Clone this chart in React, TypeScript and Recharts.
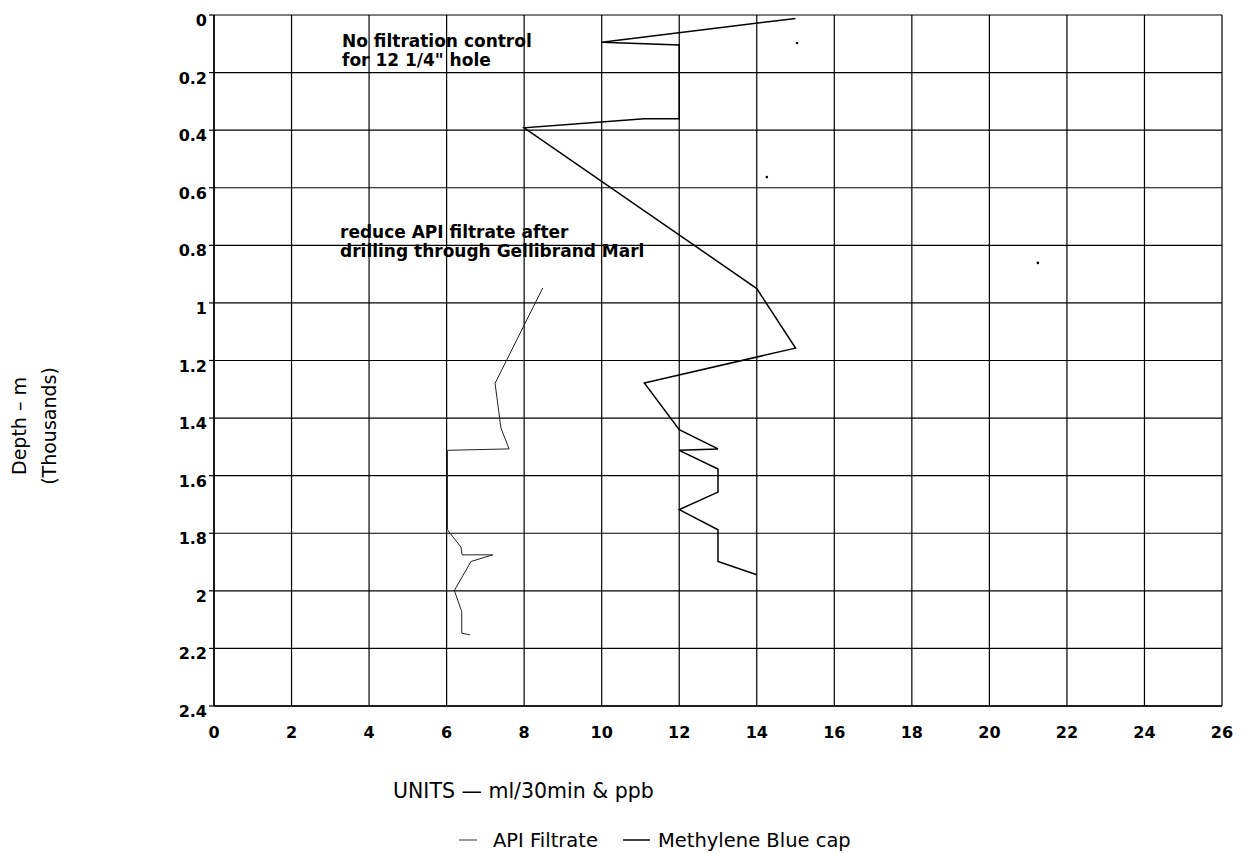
import React from 'react';
import { ScatterChart, Scatter, XAxis, YAxis, CartesianGrid, Legend, Label } from 'recharts';

const FONT = "'DejaVu Sans', sans-serif";

// Axis ticks
const xTicks = [0, 2, 4, 6, 8, 10, 12, 14, 16, 18, 20, 22, 24, 26];
const yTicks = [0, 0.2, 0.4, 0.6, 0.8, 1, 1.2, 1.4, 1.6, 1.8, 2, 2.2, 2.4];

// Series names
const seriesNames = ['API Filtrate', 'Methylene Blue cap'];

// Methylene Blue cap (ppb) vs depth (thousands of m)
const methyleneDepth = [0.012, 0.095, 0.104, 0.36, 0.36, 0.392, 0.95, 1.157, 1.278, 1.44, 1.507, 1.512, 1.577, 1.657, 1.718, 1.788, 1.898, 1.944];
const methyleneValue = [15, 10, 12, 12, 11.1, 8, 14, 15, 11.1, 12, 13, 12, 13, 13, 12, 13, 13, 14];

// API Filtrate (ml/30min) vs depth
const apiDepth = [0.948, 1.279, 1.434, 1.507, 1.512, 1.788, 1.848, 1.875, 1.875, 1.898, 1.999, 2.072, 2.147, 2.153];
const apiValue = [8.48, 7.25, 7.4, 7.61, 6.02, 6.02, 6.37, 6.4, 7.19, 6.63, 6.2, 6.39, 6.39, 6.6];

// small isolated marks
const markDepth = [0.097, 0.563, 0.861];
const markValue = [15.04, 14.26, 21.25];

// annotation texts
const noteTop = ['No filtration control', 'for 12 1/4" hole'];
const noteMid = ['reduce API filtrate after', 'drilling through Gellibrand Marl'];

const xLabel = 'UNITS \u2014 ml/30min & ppb';
const yLabel = ['Depth \u2013 m', '(Thousands)'];

const toPoints = (xs: number[], ys: number[]) => xs.map((x, i) => ({ x, y: ys[i] }));

const methylenePts = toPoints(methyleneValue, methyleneDepth);
const apiPts = toPoints(apiValue, apiDepth);
const markPts = toPoints(markValue, markDepth);

const fmt = (v: number) => String(Math.round(v * 10) / 10);

const XTick = (props: any) => {
  const { x, y, payload } = props;
  return (
    <text x={x} y={y + 32} textAnchor="middle" fontFamily={FONT} fontWeight="bold" fontSize={16} fill="#000">
      {fmt(payload.value)}
    </text>
  );
};

const YTick = (props: any) => {
  const { x, y, payload } = props;
  return (
    <text x={x} y={y + 11} textAnchor="end" fontFamily={FONT} fontWeight="bold" fontSize={16} fill="#000">
      {fmt(payload.value)}
    </text>
  );
};

const noShape = () => <g />;
const dotShape = (p: any) => <circle cx={p.cx} cy={p.cy} r={1.3} fill="#000" />;

const renderXLabel = () => (
  <text x={393} y={798} fontFamily={FONT} fontSize={20.5} fill="#000">
    {xLabel}
  </text>
);

const renderYLabel = () => (
  <g fontFamily={FONT} fontSize={19} fill="#000">
    <text transform="translate(26,426) rotate(-90)" textAnchor="middle">{yLabel[0]}</text>
    <text transform="translate(56,426) rotate(-90)" textAnchor="middle">{yLabel[1]}</text>
  </g>
);

const LegendContent = () => (
  <svg width={1245} height={28} style={{ display: 'block' }}>
    <line x1={459} x2={477} y1={14} y2={14} stroke="#333" strokeWidth={1} />
    <text x={493} y={21} fontFamily={FONT} fontSize={19.5} fill="#000">{seriesNames[0]}</text>
    <line x1={623} x2={650} y1={14} y2={14} stroke="#000" strokeWidth={1.5} />
    <text x={658} y={21} fontFamily={FONT} fontSize={19.5} fill="#000">{seriesNames[1]}</text>
  </svg>
);

export default function App() {
  return (
    <div style={{ position: 'absolute', left: 0, top: 0, width: 1245, height: 854, background: '#fff' }}>
      <ScatterChart width={1245} height={854} margin={{ top: 15, right: 23, left: 0, bottom: 108 }}>
        <CartesianGrid stroke="#000" strokeWidth={1.2} />
        <XAxis
          type="number"
          dataKey="x"
          domain={[0, 26]}
          ticks={xTicks}
          interval={0}
          height={40}
          tickSize={0}
          tickMargin={0}
          tickLine={false}
          axisLine={{ stroke: '#000', strokeWidth: 1.5 }}
          tick={<XTick />}
          allowDataOverflow
        >
          <Label content={renderXLabel} />
        </XAxis>
        <YAxis
          type="number"
          dataKey="y"
          domain={[0, 2.4]}
          ticks={yTicks}
          interval={0}
          reversed
          width={214}
          tickSize={5}
          tickMargin={2}
          tickLine={{ stroke: '#000', strokeWidth: 1.2 }}
          axisLine={{ stroke: '#000', strokeWidth: 1.5 }}
          tick={<YTick />}
          allowDataOverflow
        >
          <Label content={renderYLabel} />
        </YAxis>
        <Scatter
          name={seriesNames[0]}
          data={apiPts}
          line={{ stroke: '#222', strokeWidth: 1 }}
          shape={noShape}
          isAnimationActive={false}
        />
        <Scatter
          name={seriesNames[1]}
          data={methylenePts}
          line={{ stroke: '#000', strokeWidth: 1.5 }}
          shape={noShape}
          isAnimationActive={false}
        />
        <Scatter name="marks" data={markPts} shape={dotShape} isAnimationActive={false} legendType="none" />
        <Legend
          verticalAlign="middle"
          align="center"
          layout="horizontal"
          wrapperStyle={{ top: 826, left: 0, width: 1245, height: 28 }}
          content={LegendContent}
        />
      </ScatterChart>
      <svg
        width={1245}
        height={854}
        style={{ position: 'absolute', left: 0, top: 0, pointerEvents: 'none' }}
      >
        <g fontFamily={FONT} fontWeight="bold" fontSize={17} fill="#000">
          <text x={342} y={47}>{noteTop[0]}</text>
          <text x={342} y={66}>{noteTop[1]}</text>
          <text x={340} y={238}>{noteMid[0]}</text>
          <text x={340} y={257}>{noteMid[1]}</text>
        </g>
      </svg>
    </div>
  );
}
